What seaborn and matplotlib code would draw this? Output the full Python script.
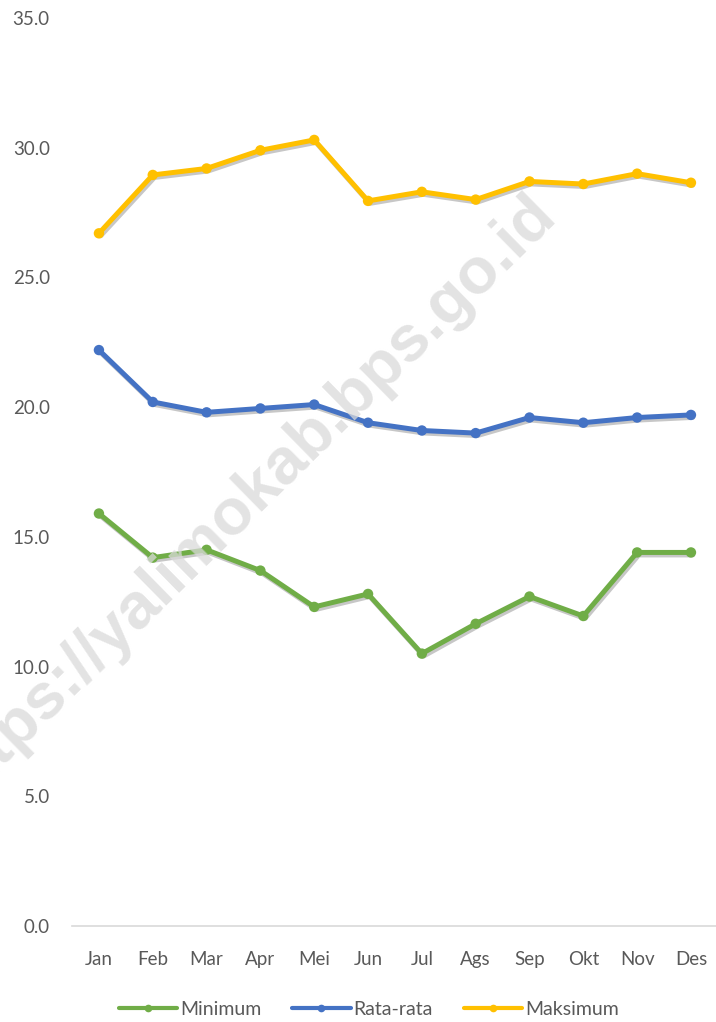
import pandas as pd
import matplotlib.pyplot as plt
import matplotlib.patheffects as pe
import seaborn as sns

months = ['Jan', 'Feb', 'Mar', 'Apr', 'Mei', 'Jun', 'Jul', 'Ags', 'Sep', 'Okt', 'Nov', 'Des']
minimum = [15.9, 14.2, 14.5, 13.7, 12.3, 12.8, 10.5, 11.65, 12.7, 11.95, 14.4, 14.4]
rata_rata = [22.2, 20.2, 19.8, 19.95, 20.1, 19.4, 19.1, 19.0, 19.6, 19.4, 19.6, 19.7]
maksimum = [26.7, 28.95, 29.2, 29.9, 30.3, 27.95, 28.3, 28.0, 28.7, 28.6, 29.0, 28.65]
series = ['Minimum', 'Rata-rata', 'Maksimum']
colors = ['#70AD47', '#4472C4', '#FFC000']
yticks = [0, 5, 10, 15, 20, 25, 30, 35]

df = pd.concat([
    pd.DataFrame({'bulan': months, 'suhu': vals, 'seri': name})
    for name, vals in zip(series, [minimum, rata_rata, maksimum])
])

sns.set_style('white')
plt.rcParams['font.family'] = ['Lato', 'DejaVu Sans']

fig = plt.figure(figsize=(7.16, 10.22), dpi=100)
ax = fig.add_axes([0.1006, 0.0939, 0.902, 0.8885])

# watermark behind the data
fig.text(0.762, 0.80, 'https://yalimokab.bps.go.id', fontsize=47, fontweight='bold',
         color='#dadada', alpha=0.75, rotation=44.5, rotation_mode='anchor',
         ha='right', va='center', family='Liberation Sans', zorder=0)
ax.patch.set_alpha(0)

sns.lineplot(data=df, x='bulan', y='suhu', hue='seri', palette=colors,
             marker='o', markersize=7.5, markeredgewidth=0, linewidth=3.6,
             sort=False, ax=ax)

for line in ax.get_lines():
    line.set_path_effects([pe.SimpleLineShadow(offset=(1.2, -1.8), shadow_color='black', alpha=0.22),
                           pe.Normal()])

ax.set_xlim(-0.5, 11.5)
ax.set_ylim(0, 35)
ax.set_yticks(yticks)
ax.set_yticklabels([f'{v:.1f}' for v in yticks])
ax.set_xlabel('')
ax.set_ylabel('')
ax.tick_params(axis='both', length=0, labelsize=13.5, labelcolor='#595959')
ax.tick_params(axis='y', pad=16)
ax.tick_params(axis='x', pad=18)
for s in ['top', 'right', 'left']:
    ax.spines[s].set_visible(False)
ax.spines['bottom'].set_color('#d9d9d9')
ax.spines['bottom'].set_linewidth(1.2)

handles, labels = ax.get_legend_handles_labels()
ax.get_legend().remove()
leg = fig.legend(handles, labels, loc='lower center', bbox_to_anchor=(0.515, -0.013), ncol=3,
                 frameon=False, fontsize=14, handlelength=3.0, columnspacing=1.6,
                 handletextpad=0.15, labelcolor='#595959')
for h in leg.legend_handles:
    h.set_markersize(5.5)
    h.set_linewidth(3)
    h.set_path_effects([])

fig.savefig('out.png', dpi=100)
